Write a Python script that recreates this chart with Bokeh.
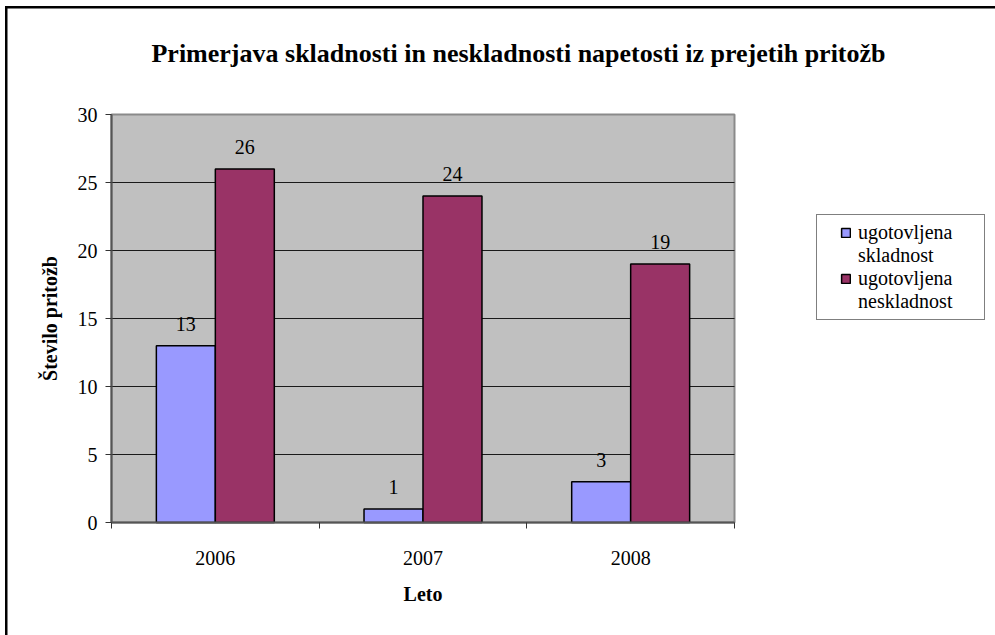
import numpy as np
from bokeh.plotting import figure
from bokeh.models import (ColumnDataSource, FixedTicker, Legend, LegendItem,
                          LabelSet, Label, Range1d)
from bokeh.core.properties import value
from bokeh.embed import file_html
from bokeh.resources import INLINE

# --- data -------------------------------------------------------------
years = ["2006", "2007", "2008"]
skladnost = [13, 1, 3]
neskladnost = [26, 24, 19]
series_names = ["ugotovljena skladnost", "ugotovljena neskladnost"]
y_ticks = [0, 5, 10, 15, 20, 25, 30]

title_text = "Primerjava skladnosti in neskladnosti napetosti iz prejetih pritožb"
y_label = "Število pritožb"
x_label = "Leto"

# --- page geometry (pixels) ---------------------------------------------
CANVAS_W, CANVAS_H = 995, 635
PLOT_LEFT, PLOT_RIGHT = 111, 734      # grey plot area
PLOT_TOP, PLOT_BOTTOM = 114, 522
TITLE_CX, TITLE_BASE = 518, 53        # title centre / baseline
YLABEL_CX = 49                        # centre of the rotated y label
XLABEL_CY = 593                       # centre of the x label
LEGEND_LEFT, LEGEND_BOTTOM = 816, 320

# --- style ------------------------------------------------------------
SERIF = "Liberation Serif"
BLUE = "#9999FF"
PLUM = "#993366"
PLOT_BG = "#C0C0C0"
bar_w = 0.284

n = len(years)
y_max = y_ticks[-1]
px_x = (PLOT_RIGHT - PLOT_LEFT) / n
px_y = (PLOT_BOTTOM - PLOT_TOP) / y_max


def dx(px):
    return (px - PLOT_LEFT) / px_x


def dy(py):
    return (PLOT_BOTTOM - py) / px_y


idx = np.arange(n)
centers = idx + 0.5
src = ColumnDataSource(dict(
    xa=centers - bar_w / 2, xb=centers + bar_w / 2,
    a=skladnost, b=neskladnost,
    a_txt=[str(v) for v in skladnost], b_txt=[str(v) for v in neskladnost],
))

# the data frame covers the whole canvas; the axes are pinned at zero
p = figure(width=CANVAS_W, height=CANVAS_H, output_backend="svg",
           toolbar_location=None, title=None,
           x_range=Range1d(dx(0), dx(CANVAS_W)),
           y_range=Range1d(dy(CANVAS_H), dy(0)),
           min_border_left=0, min_border_right=0,
           min_border_top=0, min_border_bottom=0)

# thin black frame along the top and left edge of the chart
p.border_fill_alpha = 0
p.styles = {
    "background-color": "white",
    "box-shadow": "inset 5px 6px 0 0 white, inset 7.5px 8.5px 0 0 black",
}
p.background_fill_alpha = 0
p.outline_line_color = None
p.xgrid.visible = False
p.ygrid.visible = False

# grey plot area and horizontal gridlines
p.quad(left=0, right=n, bottom=0, top=y_max, fill_color=PLOT_BG,
       line_color="#8a8a8a", line_width=2, level="image")
p.segment(x0=0, x1=n, y0=y_ticks[1:-1], y1=y_ticks[1:-1],
          line_color="#1a1a1a", line_width=1, level="underlay")

# bars
r_a = p.vbar(x="xa", top="a", width=bar_w, source=src,
             fill_color=BLUE, line_color="black", line_width=1.5)
r_b = p.vbar(x="xb", top="b", width=bar_w, source=src,
             fill_color=PLUM, line_color="black", line_width=1.5)
blank = p.vbar(x=[], top=[], width=0.1, fill_alpha=0, line_alpha=0)

# value labels
for xcol, ycol, tcol in (("xa", "a", "a_txt"), ("xb", "b", "b_txt")):
    p.add_layout(LabelSet(x=xcol, y=ycol, text=tcol, source=src,
                          text_align="center", text_baseline="alphabetic",
                          y_offset=15, text_font=value(SERIF),
                          text_font_size=value("20px"),
                          text_color=value("black")))

# title and axis titles
p.add_layout(Label(x=dx(TITLE_CX), y=dy(TITLE_BASE), text=title_text,
                   text_align="center", text_baseline="alphabetic",
                   text_font=SERIF, text_font_size="26px",
                   text_font_style="bold", text_color="black"))
p.add_layout(Label(x=dx(YLABEL_CX), y=y_max / 2, text=y_label, angle=np.pi / 2,
                   text_align="center", text_baseline="middle",
                   text_font=SERIF, text_font_size="20px",
                   text_font_style="bold", text_color="black"))
p.add_layout(Label(x=n / 2, y=dy(XLABEL_CY), text=x_label,
                   text_align="center", text_baseline="middle",
                   text_font=SERIF, text_font_size="20px",
                   text_font_style="bold", text_color="black"))

# y axis
p.yaxis.fixed_location = 0
p.yaxis.bounds = (0, y_max)
p.yaxis.ticker = FixedTicker(ticks=y_ticks)
p.yaxis.major_label_text_font = SERIF
p.yaxis.major_label_text_font_size = "20px"
p.yaxis.major_label_text_color = "black"
p.yaxis.major_label_standoff = 8
p.yaxis.major_tick_out = 6
p.yaxis.major_tick_in = 0
p.yaxis.minor_tick_line_color = None
p.yaxis.major_tick_line_color = "#333333"
p.yaxis.axis_line_color = "#555555"
p.yaxis.axis_line_width = 2

# x axis: labels at category centres, ticks at category boundaries
p.xaxis.fixed_location = 0
p.xaxis.bounds = (0, n)
p.xaxis.ticker = FixedTicker(ticks=list(centers),
                             minor_ticks=[float(i) for i in range(n + 1)])
p.xaxis.major_label_overrides = {float(c): yr for c, yr in zip(centers, years)}
p.xaxis.major_tick_out = 0
p.xaxis.major_tick_in = 0
p.xaxis.minor_tick_out = 6
p.xaxis.minor_tick_in = 0
p.xaxis.minor_tick_line_color = "#333333"
p.xaxis.major_label_text_font = SERIF
p.xaxis.major_label_text_font_size = "20px"
p.xaxis.major_label_text_color = "black"
p.xaxis.major_label_standoff = 22
p.xaxis.axis_line_color = "#555555"
p.xaxis.axis_line_width = 2

# legend: each series name split over two lines
items = []
for name, rend in zip(series_names, (r_a, r_b)):
    first, rest = name.split(" ", 1)
    items.append(LegendItem(label=first, renderers=[rend]))
    items.append(LegendItem(label=rest, renderers=[blank]))

legend = Legend(items=items,
                location=(LEGEND_LEFT, CANVAS_H - LEGEND_BOTTOM),
                padding=6, margin=0, spacing=0,
                glyph_width=11, glyph_height=11, label_standoff=7,
                label_width=120, label_height=21,
                title=" ", title_location="left", title_standoff=16,
                title_text_font_size="1px",
                border_line_color="black", border_line_width=1,
                background_fill_color="white", background_fill_alpha=1,
                label_text_font=SERIF, label_text_font_size="20px",
                label_text_color="black")
p.add_layout(legend, "center")

open("out.html", "w").write(file_html(p, INLINE))
